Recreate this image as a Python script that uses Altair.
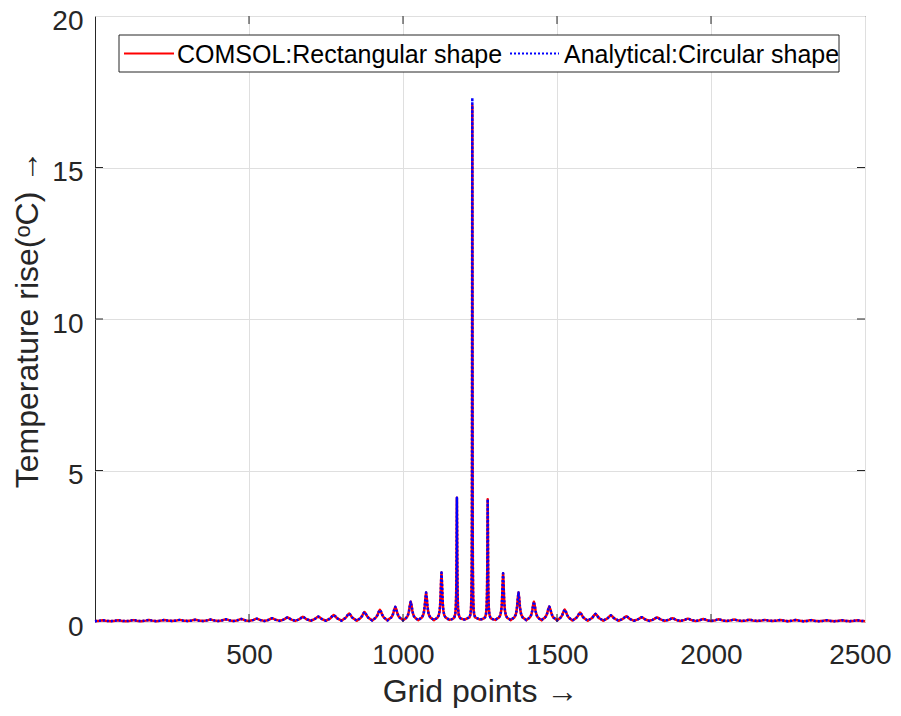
import altair as alt
import pandas as pd

FONT = "Liberation Sans"
S1 = "COMSOL:Rectangular shape"
S2 = "Analytical:Circular shape"

# Peak centres (grid points)
peak_x = [25, 75, 125, 175, 225, 275, 325, 375, 425, 475,
          525, 575, 625, 675, 725, 775, 825, 875, 925, 975,
          1025, 1075, 1125, 1175, 1225, 1275, 1325, 1375, 1425, 1475,
          1525, 1575, 1625, 1675, 1725, 1775, 1825, 1875, 1925, 1975,
          2025, 2075, 2125, 2175, 2225, 2275, 2325, 2375, 2425, 2475]

# Peak heights (deg C)
comsol_peak = [0.058, 0.060, 0.062, 0.065, 0.068, 0.070, 0.075, 0.080, 0.090, 0.100,
               0.110, 0.125, 0.150, 0.170, 0.180, 0.230, 0.280, 0.330, 0.400, 0.500,
               0.670, 0.970, 1.630, 4.100, 17.05, 4.050, 1.610, 0.970, 0.670, 0.510,
               0.410, 0.310, 0.270, 0.220, 0.190, 0.160, 0.150, 0.125, 0.110, 0.100,
               0.090, 0.080, 0.075, 0.070, 0.068, 0.065, 0.062, 0.060, 0.058, 0.056]
analytical_peak = [0.058, 0.060, 0.062, 0.065, 0.068, 0.070, 0.075, 0.080, 0.090, 0.100,
                   0.110, 0.125, 0.150, 0.170, 0.180, 0.230, 0.280, 0.330, 0.400, 0.500,
                   0.670, 0.970, 1.630, 4.100, 17.30, 4.050, 1.610, 0.970, 0.670, 0.510,
                   0.410, 0.310, 0.270, 0.220, 0.190, 0.160, 0.150, 0.125, 0.110, 0.100,
                   0.090, 0.080, 0.075, 0.070, 0.068, 0.065, 0.062, 0.060, 0.058, 0.056]

# Peak half widths (grid points)
peak_hw = [10, 10, 10, 10, 10, 10, 10, 10, 10, 10,
           10, 10, 10, 9.5, 9.5, 9.5, 9, 8.5, 8, 7,
           5.5, 4.5, 3, 1.2, 0.6, 1.2, 3, 4.5, 5.5, 7,
           8, 8.5, 9, 9.5, 9.5, 9.5, 10, 10, 10, 10,
           10, 10, 10, 10, 10, 10, 10, 10, 10, 10]

# Valleys between peaks
valley_x = [0, 50, 100, 150, 200, 250, 300, 350, 400, 450,
            500, 550, 600, 650, 700, 750, 800, 850, 900, 950,
            1000, 1050, 1100, 1150, 1200, 1250, 1300, 1350, 1400, 1450,
            1500, 1550, 1600, 1650, 1700, 1750, 1800, 1850, 1900, 1950,
            2000, 2050, 2100, 2150, 2200, 2250, 2300, 2350, 2400, 2450, 2500]
valley_y = [0.025, 0.025, 0.025, 0.025, 0.025, 0.03, 0.03, 0.03, 0.03, 0.03,
            0.03, 0.03, 0.035, 0.035, 0.04, 0.04, 0.045, 0.045, 0.05, 0.05,
            0.055, 0.06, 0.06, 0.07, 0.08, 0.08, 0.07, 0.06, 0.06, 0.055,
            0.05, 0.05, 0.045, 0.045, 0.04, 0.04, 0.035, 0.035, 0.03, 0.03,
            0.03, 0.03, 0.03, 0.03, 0.03, 0.025, 0.025, 0.025, 0.025, 0.025, 0.025]

# Shape of a peak flank: offset (in half widths) and fraction of peak height
profile_m = [0.5, 1.0, 1.5, 2.0, 3.0, 4.5, 7.0, 10.0, 15.0]
profile_f = [0.80, 0.50, 0.31, 0.20, 0.10, 0.047, 0.02, 0.01, 0.0044]

x_tick_vals = [500, 1000, 1500, 2000, 2500]
y_tick_vals = [0, 5, 10, 15, 20]
x_inner_ticks = [500, 1000, 1500, 2000]
y_inner_ticks = [5, 10, 15]


def build(peaks, name):
    rows = []
    for i, c in enumerate(peak_x):
        h = peaks[i]
        w = peak_hw[i]
        lo = valley_y[i]
        hi = valley_y[i + 1]
        rows.append((valley_x[i], lo))
        for m, f in reversed(list(zip(profile_m, profile_f))):
            off = m * w
            if off < 22:
                rows.append((c - off, lo + (h - lo) * f))
        rows.append((c, h))
        for m, f in zip(profile_m, profile_f):
            off = m * w
            if off < 22:
                rows.append((c + off, hi + (h - hi) * f))
    rows.append((valley_x[-1], valley_y[-1]))
    return pd.DataFrame({"x": [r[0] for r in rows], "y": [r[1] for r in rows], "series": name})


df = pd.concat([build(comsol_peak, S1), build(analytical_peak, S2)], ignore_index=True)

x_scale = alt.Scale(domain=[0, 2500], nice=False, zero=False)
y_scale = alt.Scale(domain=[0, 20], nice=False)

INK = "#262626"
x_axis = alt.Axis(
    values=x_tick_vals, title="Grid points \u2192", grid=True, gridColor="#dfdfdf",
    domain=False, ticks=False, labelPadding=19, labelFlush=True, labelFlushOffset=26, format="d",
    labelFont=FONT, labelFontSize=28, labelColor=INK,
    titleFont=FONT, titleFontSize=32, titleFontWeight="normal", titleColor=INK,
    titleY=79, titleBaseline="alphabetic",
)
y_axis = alt.Axis(
    values=y_tick_vals, title="Temperature rise(\u1d52C) \u2192", grid=True, gridColor="#dfdfdf",
    domain=False, ticks=False, labelPadding=12, labelOffset=5, format="d",
    labelFont=FONT, labelFontSize=28, labelColor=INK,
    titleFont=FONT, titleFontSize=32, titleFontWeight="normal", titleColor=INK,
    titleX=-58, titleBaseline="alphabetic",
)

X = alt.X("x:Q", scale=x_scale, axis=x_axis)
Y = alt.Y("y:Q", scale=y_scale, axis=y_axis)

red = alt.Chart(df).transform_filter(alt.datum.series == S1).mark_line(
    color="#ff0000", strokeWidth=2.5, strokeJoin="round").encode(x=X, y=Y)
blue = alt.Chart(df).transform_filter(alt.datum.series == S2).mark_line(
    color="#0000ff", strokeWidth=2.5, strokeJoin="round", strokeDash=[2, 2]).encode(x=X, y=Y)

xt_df = pd.DataFrame({"x": x_inner_ticks})
yt_df = pd.DataFrame({"y": y_inner_ticks})

xt_bottom = alt.Chart(xt_df).mark_rule(color=INK, strokeWidth=1).encode(
    x=X, y=alt.value(606), y2=alt.value(598))
xt_top = alt.Chart(xt_df).mark_rule(color=INK, strokeWidth=1).encode(
    x=X, y=alt.value(0), y2=alt.value(8))
yt_left = alt.Chart(yt_df).mark_rule(color=INK, strokeWidth=1).encode(
    y=Y, x=alt.value(0), x2=alt.value(8))
yt_right = alt.Chart(yt_df).mark_rule(color=INK, strokeWidth=1).encode(
    y=Y, x=alt.value(770), x2=alt.value(762))

# Legend (box, line samples, labels)
one = pd.DataFrame({"k": [0]})
leg_box = alt.Chart(one).mark_rect(fill="white", stroke=INK, strokeWidth=1).encode(
    x=alt.value(24), x2=alt.value(744), y=alt.value(19), y2=alt.value(56))
leg_red = alt.Chart(one).mark_rule(color="#ff0000", strokeWidth=2).encode(
    x=alt.value(29), x2=alt.value(79), y=alt.value(37.5))
leg_blue = alt.Chart(one).mark_rule(color="#0000ff", strokeWidth=2, strokeDash=[2, 2]).encode(
    x=alt.value(415), x2=alt.value(464), y=alt.value(37.5))
leg_t1 = alt.Chart(one).mark_text(align="left", baseline="alphabetic", font=FONT, fontSize=25,
                                  color="black").encode(
    x=alt.value(82), y=alt.value(46.5), text=alt.value(S1))
leg_t2 = alt.Chart(one).mark_text(align="left", baseline="alphabetic", font=FONT, fontSize=25,
                                  color="black").encode(
    x=alt.value(469), y=alt.value(46.5), text=alt.value(S2))

chart = alt.layer(red, blue, xt_bottom, xt_top, yt_left, yt_right,
                  leg_box, leg_red, leg_blue, leg_t1, leg_t2).properties(
    width=770, height=606,
    autosize=alt.AutoSizeParams(type="none"),
    padding={"left": 87, "top": 8, "right": 28, "bottom": 86},
).configure(font=FONT).configure_view(stroke=INK, strokeWidth=1)

chart.save("out.html", embed_options={"renderer": "svg", "actions": False})
